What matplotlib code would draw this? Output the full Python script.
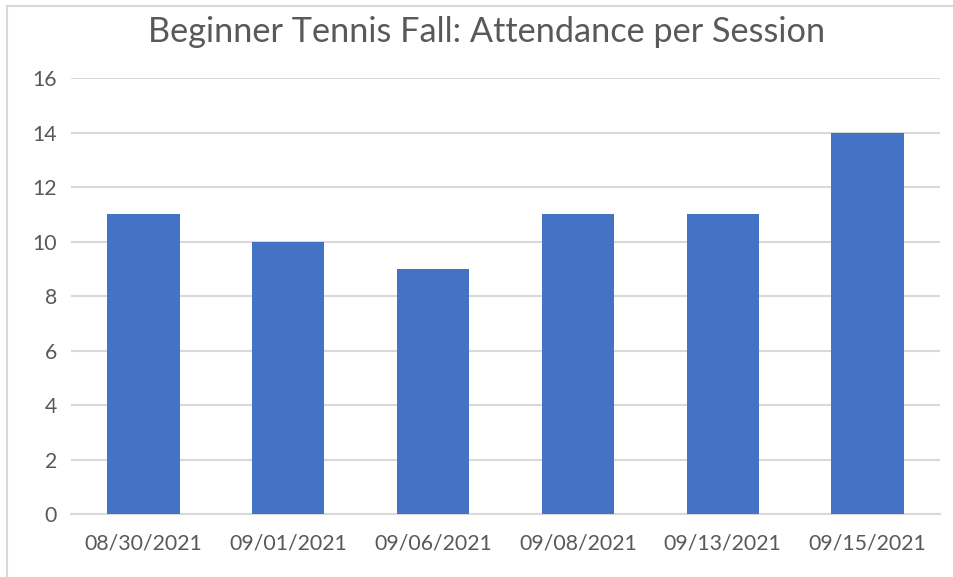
import matplotlib
matplotlib.use("Agg")
import matplotlib.pyplot as plt
from matplotlib.lines import Line2D

# ── Data ──────────────────────────────────────────────────────────────────────
SESSIONS = ["08/30/2021", "09/01/2021", "09/06/2021", "09/08/2021", "09/13/2021", "09/15/2021"]
ATTENDANCE = [11, 10, 9, 11, 11, 14]
Y_TICKS = [0, 2, 4, 6, 8, 10, 12, 14, 16]

TITLE = "Beginner Tennis Fall: Attendance per Session"

BAR_COLOR = "#4472C4"
GRID_COLOR = "#D9D9D9"
TEXT_COLOR = "#595959"

plt.rcParams["font.family"] = ["Lato", "DejaVu Sans"]

fig = plt.figure(figsize=(9.54, 5.77), dpi=100)
ax = fig.add_axes([71 / 954, 1 - 514 / 577, (940 - 71) / 954, (514 - 78) / 577])

x = range(len(SESSIONS))
ax.bar(x, ATTENDANCE, width=0.5, color=BAR_COLOR, zorder=3)

ax.set_xlim(-0.5, len(SESSIONS) - 0.5)
ax.set_ylim(0, 16)
ax.set_yticks(Y_TICKS)
ax.set_xticks(list(x))
ax.set_xticklabels(SESSIONS)

ax.yaxis.grid(True, color=GRID_COLOR, lw=1.5, zorder=0)
ax.set_axisbelow(True)
for side in ("top", "right", "left"):
    ax.spines[side].set_visible(False)
ax.spines["bottom"].set_color(GRID_COLOR)
ax.spines["bottom"].set_linewidth(1.5)

ax.tick_params(axis="both", length=0, labelsize=15.3, labelcolor=TEXT_COLOR)
ax.tick_params(axis="y", pad=10)
ax.tick_params(axis="x", pad=14)

fig.text(487 / 954, 1 - 32 / 577, TITLE, ha="center", va="center",
         fontsize=24.7, color=TEXT_COLOR)

# chart area outline (top and left edges only visible in the crop)
fig.add_artist(Line2D([7 / 954, 1], [1 - 6 / 577] * 2, color=GRID_COLOR, lw=1.5))
fig.add_artist(Line2D([7 / 954] * 2, [0, 1 - 6 / 577], color=GRID_COLOR, lw=1.5))

fig.savefig("out.png", dpi=100)
